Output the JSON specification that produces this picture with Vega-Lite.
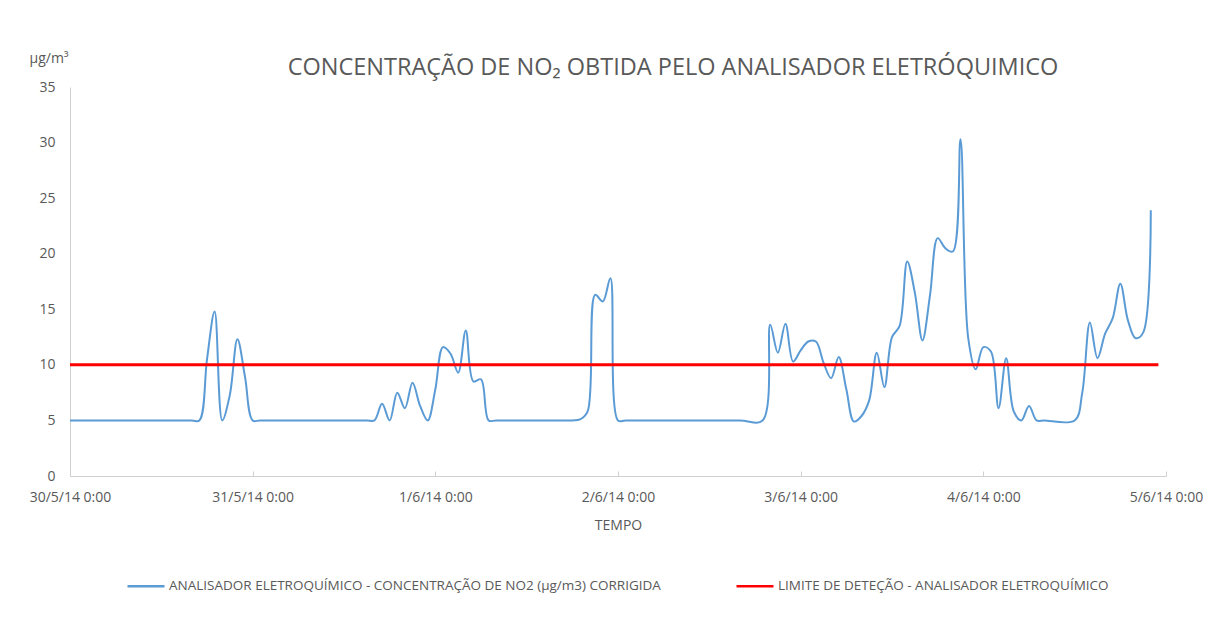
{
  "$schema": "https://vega.github.io/schema/vega-lite/v6.json",
  "width": 1096,
  "height": 389,
  "autosize": {"type": "none"},
  "padding": {"left": 70, "top": 87, "right": 42, "bottom": 164},
  "background": "white",
  "config": {
    "font": "Open Sans",
    "view": {"stroke": null},
    "axis": {"labelColor": "#595959", "titleColor": "#595959", "labelFont": "Open Sans", "titleFont": "Open Sans", "titleFontWeight": "normal", "grid": false, "domainColor": "#d0d0d0", "tickColor": "#d0d0d0"}
  },
  "title": {
    "text": "CONCENTRAÇÃO DE NO₂ OBTIDA PELO ANALISADOR ELETRÓQUIMICO",
    "fontSize": 23.5,
    "fontWeight": "normal",
    "color": "#595959",
    "font": "Open Sans",
    "anchor": "middle",
    "frame": "group",
    "dx": 55,
    "offset": -28
  },
  "datasets": {
    "no2": [
      {"t": "2014-05-30T00:00", "v": 5, "serie": "ANALISADOR ELETROQUÍMICO - CONCENTRAÇÃO DE NO2 (µg/m3) CORRIGIDA"},
      {"t": "2014-05-30T08:00", "v": 5, "serie": "ANALISADOR ELETROQUÍMICO - CONCENTRAÇÃO DE NO2 (µg/m3) CORRIGIDA"},
      {"t": "2014-05-30T16:00", "v": 5, "serie": "ANALISADOR ELETROQUÍMICO - CONCENTRAÇÃO DE NO2 (µg/m3) CORRIGIDA"},
      {"t": "2014-05-30T17:00", "v": 5, "serie": "ANALISADOR ELETROQUÍMICO - CONCENTRAÇÃO DE NO2 (µg/m3) CORRIGIDA"},
      {"t": "2014-05-30T18:00", "v": 10.5, "serie": "ANALISADOR ELETROQUÍMICO - CONCENTRAÇÃO DE NO2 (µg/m3) CORRIGIDA"},
      {"t": "2014-05-30T19:00", "v": 14.8, "serie": "ANALISADOR ELETROQUÍMICO - CONCENTRAÇÃO DE NO2 (µg/m3) CORRIGIDA"},
      {"t": "2014-05-30T20:00", "v": 5.0, "serie": "ANALISADOR ELETROQUÍMICO - CONCENTRAÇÃO DE NO2 (µg/m3) CORRIGIDA"},
      {"t": "2014-05-30T21:00", "v": 7.3, "serie": "ANALISADOR ELETROQUÍMICO - CONCENTRAÇÃO DE NO2 (µg/m3) CORRIGIDA"},
      {"t": "2014-05-30T22:00", "v": 12.3, "serie": "ANALISADOR ELETROQUÍMICO - CONCENTRAÇÃO DE NO2 (µg/m3) CORRIGIDA"},
      {"t": "2014-05-30T23:00", "v": 8.9, "serie": "ANALISADOR ELETROQUÍMICO - CONCENTRAÇÃO DE NO2 (µg/m3) CORRIGIDA"},
      {"t": "2014-05-31T00:00", "v": 5.0, "serie": "ANALISADOR ELETROQUÍMICO - CONCENTRAÇÃO DE NO2 (µg/m3) CORRIGIDA"},
      {"t": "2014-05-31T01:00", "v": 5, "serie": "ANALISADOR ELETROQUÍMICO - CONCENTRAÇÃO DE NO2 (µg/m3) CORRIGIDA"},
      {"t": "2014-05-31T08:00", "v": 5, "serie": "ANALISADOR ELETROQUÍMICO - CONCENTRAÇÃO DE NO2 (µg/m3) CORRIGIDA"},
      {"t": "2014-05-31T15:00", "v": 5, "serie": "ANALISADOR ELETROQUÍMICO - CONCENTRAÇÃO DE NO2 (µg/m3) CORRIGIDA"},
      {"t": "2014-05-31T16:00", "v": 5, "serie": "ANALISADOR ELETROQUÍMICO - CONCENTRAÇÃO DE NO2 (µg/m3) CORRIGIDA"},
      {"t": "2014-05-31T17:00", "v": 6.5, "serie": "ANALISADOR ELETROQUÍMICO - CONCENTRAÇÃO DE NO2 (µg/m3) CORRIGIDA"},
      {"t": "2014-05-31T18:00", "v": 5.0, "serie": "ANALISADOR ELETROQUÍMICO - CONCENTRAÇÃO DE NO2 (µg/m3) CORRIGIDA"},
      {"t": "2014-05-31T19:00", "v": 7.5, "serie": "ANALISADOR ELETROQUÍMICO - CONCENTRAÇÃO DE NO2 (µg/m3) CORRIGIDA"},
      {"t": "2014-05-31T20:00", "v": 6.1, "serie": "ANALISADOR ELETROQUÍMICO - CONCENTRAÇÃO DE NO2 (µg/m3) CORRIGIDA"},
      {"t": "2014-05-31T21:00", "v": 8.4, "serie": "ANALISADOR ELETROQUÍMICO - CONCENTRAÇÃO DE NO2 (µg/m3) CORRIGIDA"},
      {"t": "2014-05-31T22:00", "v": 6.3, "serie": "ANALISADOR ELETROQUÍMICO - CONCENTRAÇÃO DE NO2 (µg/m3) CORRIGIDA"},
      {"t": "2014-05-31T23:00", "v": 5.0, "serie": "ANALISADOR ELETROQUÍMICO - CONCENTRAÇÃO DE NO2 (µg/m3) CORRIGIDA"},
      {"t": "2014-06-01T00:00", "v": 7.8, "serie": "ANALISADOR ELETROQUÍMICO - CONCENTRAÇÃO DE NO2 (µg/m3) CORRIGIDA"},
      {"t": "2014-06-01T01:00", "v": 11.6, "serie": "ANALISADOR ELETROQUÍMICO - CONCENTRAÇÃO DE NO2 (µg/m3) CORRIGIDA"},
      {"t": "2014-06-01T02:00", "v": 11.0, "serie": "ANALISADOR ELETROQUÍMICO - CONCENTRAÇÃO DE NO2 (µg/m3) CORRIGIDA"},
      {"t": "2014-06-01T03:00", "v": 9.3, "serie": "ANALISADOR ELETROQUÍMICO - CONCENTRAÇÃO DE NO2 (µg/m3) CORRIGIDA"},
      {"t": "2014-06-01T04:00", "v": 13.1, "serie": "ANALISADOR ELETROQUÍMICO - CONCENTRAÇÃO DE NO2 (µg/m3) CORRIGIDA"},
      {"t": "2014-06-01T05:00", "v": 8.5, "serie": "ANALISADOR ELETROQUÍMICO - CONCENTRAÇÃO DE NO2 (µg/m3) CORRIGIDA"},
      {"t": "2014-06-01T06:00", "v": 8.7, "serie": "ANALISADOR ELETROQUÍMICO - CONCENTRAÇÃO DE NO2 (µg/m3) CORRIGIDA"},
      {"t": "2014-06-01T07:00", "v": 5.0, "serie": "ANALISADOR ELETROQUÍMICO - CONCENTRAÇÃO DE NO2 (µg/m3) CORRIGIDA"},
      {"t": "2014-06-01T08:00", "v": 5, "serie": "ANALISADOR ELETROQUÍMICO - CONCENTRAÇÃO DE NO2 (µg/m3) CORRIGIDA"},
      {"t": "2014-06-01T14:00", "v": 5, "serie": "ANALISADOR ELETROQUÍMICO - CONCENTRAÇÃO DE NO2 (µg/m3) CORRIGIDA"},
      {"t": "2014-06-01T18:00", "v": 5, "serie": "ANALISADOR ELETROQUÍMICO - CONCENTRAÇÃO DE NO2 (µg/m3) CORRIGIDA"},
      {"t": "2014-06-01T19:00", "v": 5.1, "serie": "ANALISADOR ELETROQUÍMICO - CONCENTRAÇÃO DE NO2 (µg/m3) CORRIGIDA"},
      {"t": "2014-06-01T20:00", "v": 5.8, "serie": "ANALISADOR ELETROQUÍMICO - CONCENTRAÇÃO DE NO2 (µg/m3) CORRIGIDA"},
      {"t": "2014-06-01T21:00", "v": 16.3, "serie": "ANALISADOR ELETROQUÍMICO - CONCENTRAÇÃO DE NO2 (µg/m3) CORRIGIDA"},
      {"t": "2014-06-01T22:00", "v": 15.7, "serie": "ANALISADOR ELETROQUÍMICO - CONCENTRAÇÃO DE NO2 (µg/m3) CORRIGIDA"},
      {"t": "2014-06-01T23:00", "v": 17.8, "serie": "ANALISADOR ELETROQUÍMICO - CONCENTRAÇÃO DE NO2 (µg/m3) CORRIGIDA"},
      {"t": "2014-06-02T00:00", "v": 5.0, "serie": "ANALISADOR ELETROQUÍMICO - CONCENTRAÇÃO DE NO2 (µg/m3) CORRIGIDA"},
      {"t": "2014-06-02T01:00", "v": 5, "serie": "ANALISADOR ELETROQUÍMICO - CONCENTRAÇÃO DE NO2 (µg/m3) CORRIGIDA"},
      {"t": "2014-06-02T08:00", "v": 5, "serie": "ANALISADOR ELETROQUÍMICO - CONCENTRAÇÃO DE NO2 (µg/m3) CORRIGIDA"},
      {"t": "2014-06-02T16:00", "v": 5, "serie": "ANALISADOR ELETROQUÍMICO - CONCENTRAÇÃO DE NO2 (µg/m3) CORRIGIDA"},
      {"t": "2014-06-02T19:00", "v": 5, "serie": "ANALISADOR ELETROQUÍMICO - CONCENTRAÇÃO DE NO2 (µg/m3) CORRIGIDA"},
      {"t": "2014-06-02T20:00", "v": 13.6, "serie": "ANALISADOR ELETROQUÍMICO - CONCENTRAÇÃO DE NO2 (µg/m3) CORRIGIDA"},
      {"t": "2014-06-02T21:00", "v": 11.1, "serie": "ANALISADOR ELETROQUÍMICO - CONCENTRAÇÃO DE NO2 (µg/m3) CORRIGIDA"},
      {"t": "2014-06-02T22:00", "v": 13.7, "serie": "ANALISADOR ELETROQUÍMICO - CONCENTRAÇÃO DE NO2 (µg/m3) CORRIGIDA"},
      {"t": "2014-06-02T23:00", "v": 10.3, "serie": "ANALISADOR ELETROQUÍMICO - CONCENTRAÇÃO DE NO2 (µg/m3) CORRIGIDA"},
      {"t": "2014-06-03T00:00", "v": 11.3, "serie": "ANALISADOR ELETROQUÍMICO - CONCENTRAÇÃO DE NO2 (µg/m3) CORRIGIDA"},
      {"t": "2014-06-03T01:00", "v": 12.1, "serie": "ANALISADOR ELETROQUÍMICO - CONCENTRAÇÃO DE NO2 (µg/m3) CORRIGIDA"},
      {"t": "2014-06-03T02:00", "v": 12.1, "serie": "ANALISADOR ELETROQUÍMICO - CONCENTRAÇÃO DE NO2 (µg/m3) CORRIGIDA"},
      {"t": "2014-06-03T03:00", "v": 10.2, "serie": "ANALISADOR ELETROQUÍMICO - CONCENTRAÇÃO DE NO2 (µg/m3) CORRIGIDA"},
      {"t": "2014-06-03T04:00", "v": 8.8, "serie": "ANALISADOR ELETROQUÍMICO - CONCENTRAÇÃO DE NO2 (µg/m3) CORRIGIDA"},
      {"t": "2014-06-03T05:00", "v": 10.7, "serie": "ANALISADOR ELETROQUÍMICO - CONCENTRAÇÃO DE NO2 (µg/m3) CORRIGIDA"},
      {"t": "2014-06-03T06:00", "v": 7.8, "serie": "ANALISADOR ELETROQUÍMICO - CONCENTRAÇÃO DE NO2 (µg/m3) CORRIGIDA"},
      {"t": "2014-06-03T07:00", "v": 4.9, "serie": "ANALISADOR ELETROQUÍMICO - CONCENTRAÇÃO DE NO2 (µg/m3) CORRIGIDA"},
      {"t": "2014-06-03T08:00", "v": 5.4, "serie": "ANALISADOR ELETROQUÍMICO - CONCENTRAÇÃO DE NO2 (µg/m3) CORRIGIDA"},
      {"t": "2014-06-03T09:00", "v": 6.8, "serie": "ANALISADOR ELETROQUÍMICO - CONCENTRAÇÃO DE NO2 (µg/m3) CORRIGIDA"},
      {"t": "2014-06-03T10:00", "v": 11.1, "serie": "ANALISADOR ELETROQUÍMICO - CONCENTRAÇÃO DE NO2 (µg/m3) CORRIGIDA"},
      {"t": "2014-06-03T11:00", "v": 8.0, "serie": "ANALISADOR ELETROQUÍMICO - CONCENTRAÇÃO DE NO2 (µg/m3) CORRIGIDA"},
      {"t": "2014-06-03T12:00", "v": 12.5, "serie": "ANALISADOR ELETROQUÍMICO - CONCENTRAÇÃO DE NO2 (µg/m3) CORRIGIDA"},
      {"t": "2014-06-03T13:00", "v": 13.5, "serie": "ANALISADOR ELETROQUÍMICO - CONCENTRAÇÃO DE NO2 (µg/m3) CORRIGIDA"},
      {"t": "2014-06-03T14:00", "v": 19.3, "serie": "ANALISADOR ELETROQUÍMICO - CONCENTRAÇÃO DE NO2 (µg/m3) CORRIGIDA"},
      {"t": "2014-06-03T15:00", "v": 16.5, "serie": "ANALISADOR ELETROQUÍMICO - CONCENTRAÇÃO DE NO2 (µg/m3) CORRIGIDA"},
      {"t": "2014-06-03T16:00", "v": 12.2, "serie": "ANALISADOR ELETROQUÍMICO - CONCENTRAÇÃO DE NO2 (µg/m3) CORRIGIDA"},
      {"t": "2014-06-03T17:00", "v": 16.3, "serie": "ANALISADOR ELETROQUÍMICO - CONCENTRAÇÃO DE NO2 (µg/m3) CORRIGIDA"},
      {"t": "2014-06-03T18:00", "v": 21.4, "serie": "ANALISADOR ELETROQUÍMICO - CONCENTRAÇÃO DE NO2 (µg/m3) CORRIGIDA"},
      {"t": "2014-06-03T19:00", "v": 20.5, "serie": "ANALISADOR ELETROQUÍMICO - CONCENTRAÇÃO DE NO2 (µg/m3) CORRIGIDA"},
      {"t": "2014-06-03T20:00", "v": 20.2, "serie": "ANALISADOR ELETROQUÍMICO - CONCENTRAÇÃO DE NO2 (µg/m3) CORRIGIDA"},
      {"t": "2014-06-03T21:00", "v": 30.3, "serie": "ANALISADOR ELETROQUÍMICO - CONCENTRAÇÃO DE NO2 (µg/m3) CORRIGIDA"},
      {"t": "2014-06-03T22:00", "v": 12.5, "serie": "ANALISADOR ELETROQUÍMICO - CONCENTRAÇÃO DE NO2 (µg/m3) CORRIGIDA"},
      {"t": "2014-06-03T23:00", "v": 9.6, "serie": "ANALISADOR ELETROQUÍMICO - CONCENTRAÇÃO DE NO2 (µg/m3) CORRIGIDA"},
      {"t": "2014-06-04T00:00", "v": 11.6, "serie": "ANALISADOR ELETROQUÍMICO - CONCENTRAÇÃO DE NO2 (µg/m3) CORRIGIDA"},
      {"t": "2014-06-04T01:00", "v": 11.2, "serie": "ANALISADOR ELETROQUÍMICO - CONCENTRAÇÃO DE NO2 (µg/m3) CORRIGIDA"},
      {"t": "2014-06-04T02:00", "v": 6.1, "serie": "ANALISADOR ELETROQUÍMICO - CONCENTRAÇÃO DE NO2 (µg/m3) CORRIGIDA"},
      {"t": "2014-06-04T03:00", "v": 10.6, "serie": "ANALISADOR ELETROQUÍMICO - CONCENTRAÇÃO DE NO2 (µg/m3) CORRIGIDA"},
      {"t": "2014-06-04T04:00", "v": 5.8, "serie": "ANALISADOR ELETROQUÍMICO - CONCENTRAÇÃO DE NO2 (µg/m3) CORRIGIDA"},
      {"t": "2014-06-04T05:00", "v": 5.0, "serie": "ANALISADOR ELETROQUÍMICO - CONCENTRAÇÃO DE NO2 (µg/m3) CORRIGIDA"},
      {"t": "2014-06-04T06:00", "v": 6.3, "serie": "ANALISADOR ELETROQUÍMICO - CONCENTRAÇÃO DE NO2 (µg/m3) CORRIGIDA"},
      {"t": "2014-06-04T07:00", "v": 5.0, "serie": "ANALISADOR ELETROQUÍMICO - CONCENTRAÇÃO DE NO2 (µg/m3) CORRIGIDA"},
      {"t": "2014-06-04T08:00", "v": 5, "serie": "ANALISADOR ELETROQUÍMICO - CONCENTRAÇÃO DE NO2 (µg/m3) CORRIGIDA"},
      {"t": "2014-06-04T12:00", "v": 5, "serie": "ANALISADOR ELETROQUÍMICO - CONCENTRAÇÃO DE NO2 (µg/m3) CORRIGIDA"},
      {"t": "2014-06-04T13:00", "v": 7.5, "serie": "ANALISADOR ELETROQUÍMICO - CONCENTRAÇÃO DE NO2 (µg/m3) CORRIGIDA"},
      {"t": "2014-06-04T14:00", "v": 13.8, "serie": "ANALISADOR ELETROQUÍMICO - CONCENTRAÇÃO DE NO2 (µg/m3) CORRIGIDA"},
      {"t": "2014-06-04T15:00", "v": 10.6, "serie": "ANALISADOR ELETROQUÍMICO - CONCENTRAÇÃO DE NO2 (µg/m3) CORRIGIDA"},
      {"t": "2014-06-04T16:00", "v": 12.8, "serie": "ANALISADOR ELETROQUÍMICO - CONCENTRAÇÃO DE NO2 (µg/m3) CORRIGIDA"},
      {"t": "2014-06-04T17:00", "v": 14.2, "serie": "ANALISADOR ELETROQUÍMICO - CONCENTRAÇÃO DE NO2 (µg/m3) CORRIGIDA"},
      {"t": "2014-06-04T18:00", "v": 17.3, "serie": "ANALISADOR ELETROQUÍMICO - CONCENTRAÇÃO DE NO2 (µg/m3) CORRIGIDA"},
      {"t": "2014-06-04T19:00", "v": 14.0, "serie": "ANALISADOR ELETROQUÍMICO - CONCENTRAÇÃO DE NO2 (µg/m3) CORRIGIDA"},
      {"t": "2014-06-04T20:00", "v": 12.4, "serie": "ANALISADOR ELETROQUÍMICO - CONCENTRAÇÃO DE NO2 (µg/m3) CORRIGIDA"},
      {"t": "2014-06-04T21:00", "v": 12.9, "serie": "ANALISADOR ELETROQUÍMICO - CONCENTRAÇÃO DE NO2 (µg/m3) CORRIGIDA"},
      {"t": "2014-06-04T22:00", "v": 23.9, "serie": "ANALISADOR ELETROQUÍMICO - CONCENTRAÇÃO DE NO2 (µg/m3) CORRIGIDA"}
    ],
    "limite": [
      {"t": "2014-05-30T00:00", "v": 10, "serie": "LIMITE DE DETEÇÃO - ANALISADOR ELETROQUÍMICO"},
      {"t": "2014-06-04T23:00", "v": 10, "serie": "LIMITE DE DETEÇÃO - ANALISADOR ELETROQUÍMICO"}
    ]
  },
  "encoding": {
    "x": {
      "field": "t",
      "type": "temporal",
      "scale": {"domain": ["2014-05-30T00:00", "2014-06-05T00:00"]},
      "axis": {
        "title": "TEMPO",
        "format": "%-d/%-m/%y %-H:%M",
        "tickCount": {"interval": "day", "step": 1},
        "labelFontSize": 14,
        "titleFontSize": 14,
        "tickSize": -5,
        "labelPadding": 19,
        "titlePadding": 14,
        "labelFlush": false,
        "labelOverlap": false
      }
    },
    "y": {
      "field": "v",
      "type": "quantitative",
      "scale": {"domain": [0, 35]},
      "axis": {
        "title": "µg/m³",
        "titleAngle": 0,
        "titleAlign": "left",
        "titleBaseline": "bottom",
        "titleX": -41,
        "titleY": -22,
        "titleFontSize": 14,
        "values": [0, 5, 10, 15, 20, 25, 30, 35],
        "labelFontSize": 14,
        "ticks": false,
        "labelPadding": 15
      }
    },
    "color": {
      "field": "serie",
      "type": "nominal",
      "scale": {
        "domain": ["ANALISADOR ELETROQUÍMICO - CONCENTRAÇÃO DE NO2 (µg/m3) CORRIGIDA", "LIMITE DE DETEÇÃO - ANALISADOR ELETROQUÍMICO"],
        "range": ["#5b9bd5", "#ff0000"]
      },
      "legend": {
        "title": null,
        "orient": "none",
        "legendX": 56,
        "legendY": 479,
        "direction": "horizontal",
        "symbolType": "stroke",
        "symbolSize": 1369,
        "symbolStrokeWidth": 2.5,
        "labelFontSize": 13.5,
        "labelColor": "#595959",
        "labelFont": "Open Sans",
        "labelLimit": 700,
        "labelOffset": 3,
        "columnPadding": 70
      }
    }
  },
  "layer": [
    {
      "data": {"name": "no2"},
      "mark": {"type": "line", "interpolate": "catmull-rom", "strokeWidth": 2}
    },
    {
      "data": {"name": "limite"},
      "mark": {"type": "line", "strokeWidth": 3}
    }
  ]
}
